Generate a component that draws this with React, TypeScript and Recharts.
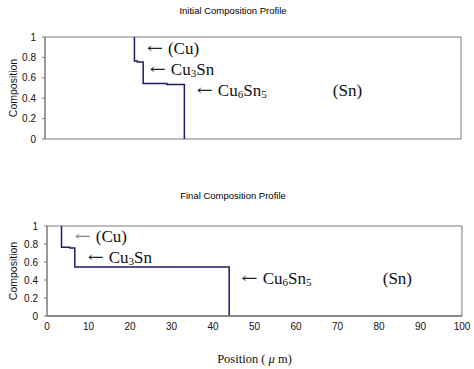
import React from 'react';
import { LineChart, Line, XAxis, YAxis, ReferenceArea, ReferenceDot } from 'recharts';

// Initial composition profile (position in µm, composition fraction)
const initialPos = [21.5, 21.5, 22.2, 22.2, 23.6, 23.6, 29.3, 29.3, 33.5, 33.5];
const initialComp = [1, 0.765, 0.765, 0.755, 0.755, 0.545, 0.545, 0.535, 0.535, 0];

// Final composition profile
const finalPos = [3.5, 3.5, 5.5, 5.5, 6.7, 6.7, 43.9, 43.9];
const finalComp = [1, 0.765, 0.765, 0.755, 0.755, 0.545, 0.545, 0];

const xTicks = [0, 10, 20, 30, 40, 50, 60, 70, 80, 90, 100];
const yTicks = [0, 0.2, 0.4, 0.6, 0.8, 1];

// Phase annotation labels: [phase, x, y]
const phaseNames = ['(Cu)', 'Cu3Sn', 'Cu6Sn5', '(Sn)'];
const initialLabelX = [24.5, 25.2, 36.5, 69.2];
const initialLabelY = [0.835, 0.627, 0.419, 0.419];
const finalLabelX = [6.7, 9.8, 46.9, 80.9];
const finalLabelY = [0.82, 0.59, 0.36, 0.36];

const initialData = initialPos.map((x, i) => ({ x, y: initialComp[i] }));
const finalData = finalPos.map((x, i) => ({ x, y: finalComp[i] }));

const LINE = '#1c1c6b';
const AXIS = '#7a7a7a';
const SANS = '"Liberation Sans", Arial, sans-serif';
const SERIF = '"Liberation Serif", "Times New Roman", serif';

function PhaseText({ name, vx, vy, arrowColor }: { name: string; vx: number; vy: number; arrowColor?: string }) {
  const hasArrow = name !== '(Sn)';
  const renderName = () => {
    if (name === 'Cu3Sn') {
      return [
        <tspan key="a">Cu</tspan>,
        <tspan key="b" fontSize={11} dy={2}>3</tspan>,
        <tspan key="c" dy={-2}>Sn</tspan>,
      ];
    }
    if (name === 'Cu6Sn5') {
      return [
        <tspan key="a">Cu</tspan>,
        <tspan key="b" fontSize={11} dy={2}>6</tspan>,
        <tspan key="c" dy={-2}>Sn</tspan>,
        <tspan key="d" fontSize={11} dy={2}>5</tspan>,
      ];
    }
    return name;
  };
  return (
    <g>
      {hasArrow && (
        <text x={vx} y={vy - 1} fontFamily='"DejaVu Serif", serif' fontSize={15} fill={arrowColor || '#222'}
          textLength={16} lengthAdjust="spacingAndGlyphs">
          ←
        </text>
      )}
      <text x={vx + (hasArrow ? 21 : 0)} y={vy} fontFamily={SERIF} fontSize={17} fill="#111">
        {renderName()}
      </text>
    </g>
  );
}

function renderAnnotations(xs: number[], ys: number[], greyFirst: boolean) {
  return phaseNames.map((name, i) => (
    <ReferenceDot
      key={name}
      x={xs[i]}
      y={ys[i]}
      r={1}
      fill="none"
      stroke="none"
      ifOverflow="visible"
      label={(props: any) => {
        const vb = props.viewBox || {};
        const cx = (vb.x ?? 0) + (vb.width ?? 0) / 2;
        const cy = (vb.y ?? 0) + (vb.height ?? 0) / 2;
        return <PhaseText name={name} vx={cx} vy={cy} arrowColor={greyFirst && i === 0 ? '#888' : '#222'} />;
      }}
    />
  ));
}

const tickStyle = { fontFamily: SANS, fontSize: 10, fill: '#111' };

function YLabel() {
  return (props: any) => {
    const vb = props.viewBox || {};
    const cx = 14;
    const cy = vb.y + vb.height / 2;
    return (
      <text x={cx} y={cy} transform={`rotate(-90, ${cx}, ${cy})`} textAnchor="middle" dominantBaseline="middle"
        fontFamily={SANS} fontSize={10.5} fill="#111">
        Composition
      </text>
    );
  };
}

export default function App() {
  return (
    <div style={{ position: 'absolute', left: 0, top: 0, width: 474, height: 369, background: '#fff', overflow: 'hidden' }}>
      <div style={{ position: 'absolute', left: 0, width: 474, top: 5, textAlign: 'center', fontFamily: SANS, fontSize: 9.5, color: '#000' }}>
        <span style={{ position: 'relative', left: -4 }}>Initial Composition Profile</span>
      </div>
      <div style={{ position: 'absolute', left: 0, top: 0 }}>
        <LineChart width={474} height={160} data={initialData} margin={{ top: 37, right: 13, bottom: 21, left: 15 }}>
          <XAxis dataKey="x" type="number" domain={[0, 100]} ticks={xTicks} tick={false} height={0}
            axisLine={{ stroke: AXIS, strokeWidth: 1.5 }} tickLine={false} />
          <YAxis type="number" domain={[0, 1]} ticks={yTicks} width={30} tick={tickStyle}
            tickSize={3} tickMargin={6} axisLine={{ stroke: AXIS }} tickLine={{ stroke: AXIS }}
            tickFormatter={(v: number) => String(v)} label={YLabel()} />
          <ReferenceArea x1={0} x2={100} y1={0} y2={1} fill="none" stroke={AXIS} strokeWidth={1} />
          <Line dataKey="y" type="linear" stroke={LINE} strokeWidth={1.5} dot={false} isAnimationActive={false} />
          {renderAnnotations(initialLabelX, initialLabelY, false)}
        </LineChart>
      </div>
      <div style={{ position: 'absolute', left: 0, width: 474, top: 190, textAlign: 'center', fontFamily: SANS, fontSize: 9.5, color: '#000' }}>
        <span style={{ position: 'relative', left: -4 }}>Final Composition Profile</span>
      </div>
      <div style={{ position: 'absolute', left: 0, top: 180 }}>
        <LineChart width={474} height={189} data={finalData} margin={{ top: 46, right: 12, bottom: 33, left: 17 }}>
          <XAxis dataKey="x" type="number" domain={[0, 100]} ticks={xTicks} height={20} tick={tickStyle}
            tickSize={0} tickMargin={7} interval={0}
            axisLine={{ stroke: AXIS, strokeWidth: 1.5 }} tickLine={false}
            label={(props: any) => {
              const vb = props.viewBox || {};
              const cx = vb.x + vb.width / 2;
              return (
                <text x={cx} y={vb.y + 47} textAnchor="middle" fontFamily={SERIF} fontSize={12.5} fill="#111">
                  Position ( <tspan fontStyle="italic">μ</tspan> m)
                </text>
              );
            }} />
          <YAxis type="number" domain={[0, 1]} ticks={yTicks} width={30} tick={tickStyle}
            tickSize={3} tickMargin={6} axisLine={{ stroke: AXIS }} tickLine={{ stroke: AXIS }}
            tickFormatter={(v: number) => String(v)} label={YLabel()} />
          <ReferenceArea x1={0} x2={100} y1={0} y2={1} fill="none" stroke={AXIS} strokeWidth={1} />
          <Line dataKey="y" type="linear" stroke={LINE} strokeWidth={1.5} dot={false} isAnimationActive={false} />
          {renderAnnotations(finalLabelX, finalLabelY, true)}
        </LineChart>
      </div>
    </div>
  );
}
